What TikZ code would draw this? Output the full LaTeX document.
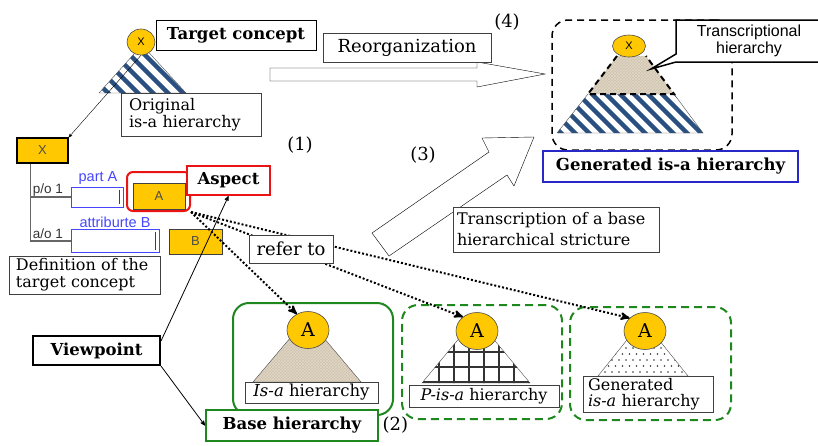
\documentclass[tikz,border=0pt]{standalone}
\usepackage{fontspec}
\setmainfont{DejaVu Serif}
\setsansfont{Liberation Sans}
\usepackage{tikz}
\usetikzlibrary{arrows,shapes.geometric,positioning,patterns}
\definecolor{cyel}{RGB}{255,200,0}
\definecolor{cstripe}{RGB}{42,80,130}
\definecolor{clinen}{RGB}{208,195,172}
\definecolor{cgreen}{RGB}{30,135,30}
\definecolor{cblue}{RGB}{40,40,200}
\definecolor{cfield}{RGB}{70,70,255}
\definecolor{cred}{RGB}{235,20,20}

\begin{document}
\begin{tikzpicture}[x=1pt,y=-1pt,>=stealth',semithick]
  \tikzstyle{box}=[rectangle,draw=black,fill=white,thin,inner sep=0pt]
  \tikzstyle{headbox}=[box,font=\bfseries\fontsize{16.5}{18}\selectfont]
  \tikzstyle{note}=[box,draw=black!75,font=\fontsize{16}{17}\selectfont,align=left]
  \tikzstyle{slot}=[rectangle,draw=black!75,fill=cyel,inner sep=0pt,font=\sffamily\fontsize{13}{14}\selectfont,text=black!70]
  \tikzstyle{hub}=[ellipse,draw=black!70,fill=cyel,inner sep=0pt]
  \tikzstyle{bighub}=[hub,minimum width=42,minimum height=37,font=\fontsize{19}{20}\selectfont]
  \tikzstyle{field}=[rectangle,draw=cfield,fill=white,inner sep=0pt]
  \tikzstyle{flabel}=[font=\sffamily\fontsize{14.5}{15}\selectfont,text=cfield]
  \tikzstyle{role}=[font=\sffamily\fontsize{13.5}{14}\selectfont,text=black!80]
  \tikzstyle{kind}=[rectangle,rounded corners=16pt,draw=cgreen,line width=2pt]
  \tikzstyle{num}=[font=\fontsize{18}{20}\selectfont]
  \tikzstyle{linen}=[fill=clinen,postaction={pattern=crosshatch,pattern color=white!35!clinen}]
  \tikzstyle{refline}=[->,line width=2pt,dash pattern=on 2pt off 2pt]
  \tikzstyle{blockarrow}=[draw=black,fill=white,thin,line join=miter]

  \useasboundingbox (0,0) rectangle (818,445);

  % original is-a hierarchy
  \begin{scope}
    \clip (142,45) -- (99,93) -- (186,93) -- cycle;
    \foreach \c in {0,15,...,150}
      \draw[cstripe,line width=4.5pt] ({\c+40},40) -- ({\c+100},100);
  \end{scope}
  \draw[thin,black!70] (142,45) -- (99,93) -- (186,93) -- cycle;
  \node[hub,minimum width=28,minimum height=26,font=\sffamily\fontsize{11}{12}\selectfont] (cx) at (141,42) {X};
  \node[headbox,minimum width=160,minimum height=30] (tgt) at (236,35) {Target concept};
  \node[note,minimum width=140,minimum height=43,text width=124] (orig) at (191,114.5) {Original\\is-a hierarchy};

  % definition of the target concept
  \node[slot,draw=black,line width=1.5pt,minimum width=51,minimum height=25] (bx) at (42.5,150.5) {X};
  \draw[->,thin] (cx.south) -- (bx.north east);
  \node[field,minimum width=52,minimum height=20] (inA) at (97,197) {};
  \node[field,minimum width=88,minimum height=23] (inB) at (115,241) {};
  \draw[black!75,line width=1pt] ([xshift=-4,yshift=-3]inA.north east) -- ([xshift=-4,yshift=3]inA.south east);
  \draw[black!75,line width=1pt] ([xshift=-4,yshift=-3]inB.north east) -- ([xshift=-4,yshift=3]inB.south east);
  \node[flabel] (lA) at (98,178) {part A};
  \node[flabel] (lB) at (115,222) {attriburte B};
  \node[role] (po) at (48,190) {p/o 1};
  \node[role] (ao) at (48,234) {a/o 1};
  \coordinate (trunk) at ([xshift=14]bx.south west);
  \draw[black!60,line width=1.5pt] (trunk) |- (inA.west) (trunk) |- (inB.west);
  \node[rectangle,rounded corners=6pt,draw=cred,line width=2pt,minimum width=63,minimum height=39] (focus) at (158.5,191.5) {};
  \node[slot,minimum width=52,minimum height=26] (bA) at (159,196) {A};
  \node[slot,minimum width=53,minimum height=25] (bB) at (195.5,241.5) {B};
  \node[headbox,draw=cred,line width=2pt,minimum width=83,minimum height=29] (asp) at (228.5,180.5) {Aspect};
  \node[note,minimum width=151,minimum height=38,text width=137] (defn) at (84.5,275) {Definition of the\\target concept};
  \node[num] (n1) at (300,145) {(1)};

  % reorganization
  \draw[blockarrow] (270,68) -- (477,68) -- (477,62) -- (545,74) -- (477,87) -- (477,81) -- (270,81) -- cycle;
  \node[note,font=\fontsize{18}{19}\selectfont,minimum width=168,minimum height=29] (reorg) at (407,47.5) {Reorganization};
  \node[num] (n4) at (507,22) {(4)};

  % generated is-a hierarchy
  \node[rectangle,rounded corners=16pt,draw=black,line width=1.5pt,dash pattern=on 7pt off 5pt,minimum width=180,minimum height=130] (gen) at (642,85) {};
  \begin{scope}
    \clip (588,94) -- (557,133) -- (703,133) -- (674,94) -- cycle;
    \foreach \c in {400,414,...,620}
      \draw[cstripe,line width=4.5pt] ({\c+80},80) -- ({\c+140},140);
  \end{scope}
  \draw[thin,black!70] (588,94) -- (557,133) -- (703,133) -- (674,94);
  \path[linen] (617,56) -- (588,94) -- (674,94) -- (646,56) -- cycle;
  \draw[line width=2pt,dash pattern=on 6pt off 4pt] (617,56) -- (588,94) -- (674,94) -- (646,56);
  \node[hub,minimum width=33,minimum height=22,font=\sffamily\fontsize{11}{12}\selectfont] (gx) at (629,46) {X};
  \draw[line width=1.5pt,fill=white] (676,20) -- (822,20) -- (822,62) -- (676,62) -- (651,69) -- (676,54) -- cycle;
  \node[align=center,font=\sffamily\fontsize{16}{17}\selectfont] (trh) at (749,41) {Transcriptional\\hierarchy};
  \node[headbox,draw=cblue,line width=2pt,minimum width=255,minimum height=31] (genl) at (670.5,166.5) {Generated is-a hierarchy};

  % transcription
  \draw[blockarrow] (372,233) -- (489,152) -- (482,138) -- (534,137) -- (514,186) -- (507,175) -- (389,256) -- cycle;
  \node[num] (n3) at (423,155) {(3)};

  % base hierarchies
  \node[kind,minimum width=160,minimum height=112] (k1) at (313,359) {};
  \node[kind,dash pattern=on 8pt off 5pt,minimum width=160,minimum height=114] (k2) at (482,362) {};
  \node[kind,dash pattern=on 8pt off 5pt,minimum width=161,minimum height=113] (k3) at (650.5,363.5) {};

  \path[linen] (307,318) -- (253,382) -- (361,382) -- cycle;
  \draw[thin,black!70] (307,318) -- (253,382) -- (361,382) -- cycle;
  \begin{scope}
    \clip (476,318) -- (422,383) -- (530,383) -- cycle;
    \foreach \x in {439,454,...,530}
      \draw[black!80,line width=1.8pt] (\x,300) -- (\x,390);
    \foreach \y in {352,367,382}
      \draw[black!80,line width=1.8pt] (400,\y) -- (560,\y);
  \end{scope}
  \draw[thin,black!70] (476,318) -- (422,383) -- (530,383) -- cycle;
  \begin{scope}
    \clip (643,320) -- (598,376) -- (688,376) -- cycle;
    \foreach \x in {598,605,...,690}
      \foreach \y in {324,336,...,376}
        \fill[black!80] (\x,\y) circle (0.9pt);
    \foreach \x in {601.5,608.5,...,690}
      \foreach \y in {330,342,...,376}
        \fill[black!80] (\x,\y) circle (0.9pt);
  \end{scope}
  \draw[thin,black!70] (643,320) -- (598,376) -- (688,376) -- cycle;

  \node[bighub] (cA1) at (308,330) {A};
  \node[bighub] (cA2) at (477,331) {A};
  \node[bighub] (cA3) at (645,331) {A};
  \node[note,font=\fontsize{16.5}{17}\selectfont,minimum width=133,minimum height=21] (isa) at (311.5,392.5) {\textit{Is-a} hierarchy};
  \node[note,font=\fontsize{16}{17}\selectfont,minimum width=150,minimum height=22] (pisa) at (484,396) {\textit{P-is-a} hierarchy};
  \node[note,font=\fontsize{16}{16.5}\selectfont,minimum width=130,minimum height=36,text width=120] (geni) at (648,394) {Generated\\\textit{is-a} hierarchy};
  \node[headbox,draw=cgreen,line width=2pt,minimum width=172,minimum height=31] (base) at (292,425.5) {Base hierarchy};
  \node[num,right=0pt of base] (n2) {(2)};

  % viewpoint
  \node[headbox,line width=2pt,minimum width=127,minimum height=29] (vp) at (96.5,350.5) {Viewpoint};

  \draw[refline] (focus.south east) -- (cA1.125);
  \draw[refline] (focus.south east) -- (cA2.135);
  \draw[refline] (focus.south east) -- (cA3.140);
  \draw[->,thick] ([yshift=-6]vp.north east) -- (asp.south);
  \draw[->,thick] (vp.south east) -- (base.west);

  \node[note,font=\fontsize{18}{19}\selectfont,minimum width=84,minimum height=28] (refer) at (291,249) {refer to};
  \node[note,font=\fontsize{16}{21}\selectfont,minimum width=206,minimum height=45,text width=198] (trans) at (556,229.5) {Transcription of a base\\hierarchical stricture};
\end{tikzpicture}
\end{document}
